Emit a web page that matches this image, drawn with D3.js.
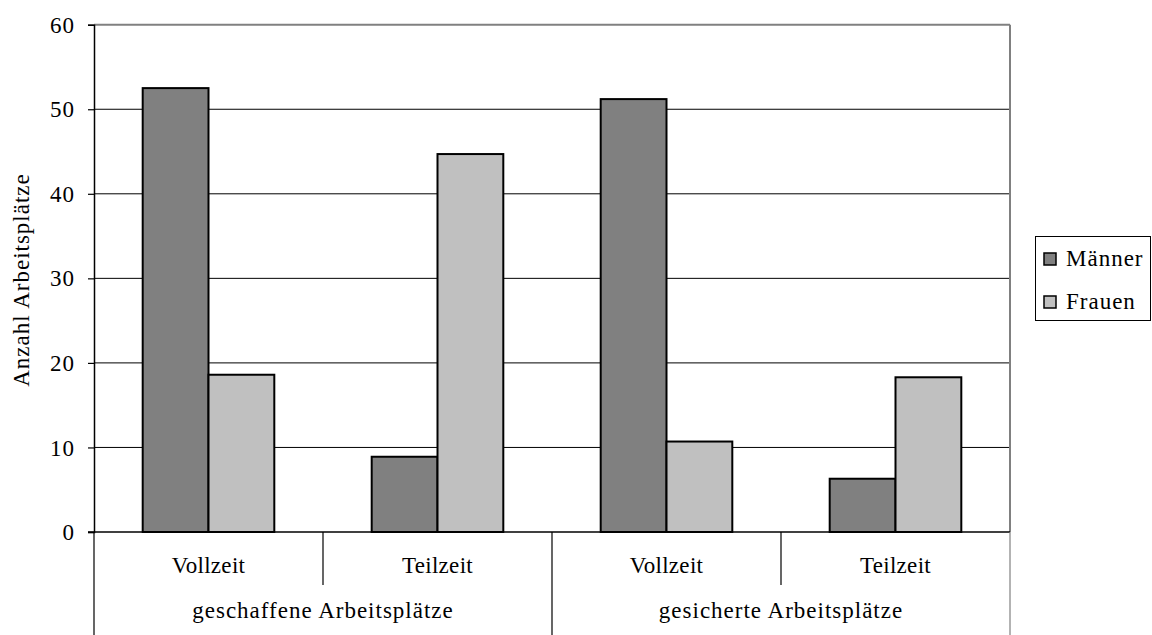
<!DOCTYPE html>
<html><head><meta charset="utf-8">
<script src="https://cdn.jsdelivr.net/npm/d3@7"></script>
<style>
body{margin:0;background:#fff;}
svg{display:block;}
text{font-family:"Liberation Serif","Times New Roman",serif;fill:#000;}
</style></head>
<body><svg id="c" width="1152" height="635"></svg>
<script>
const groups = ["geschaffene Arbeitsplätze", "gesicherte Arbeitsplätze"];
const subcats = ["Vollzeit", "Teilzeit"];
const series = ["Männer", "Frauen"];
const maenner = [52.5, 8.9, 51.2, 6.3];
const frauen = [18.6, 44.7, 10.7, 18.3];
const yTicks = [0, 10, 20, 30, 40, 50, 60];
const colors = ["#808080", "#c0c0c0"];

const svg = d3.select("#c");
const L = 94, R = 1010, T = 24.7, B = 532;
const cats = [];
groups.forEach((g, gi) => subcats.forEach((s, si) => cats.push({g: gi, s, key: gi + "-" + si})));
const x = d3.scaleBand().domain(cats.map(d => d.key)).range([L, R]);
const xs = d3.scaleBand().domain(series).range([0, x.bandwidth()]).paddingInner(0).paddingOuter(0.74);
const y = d3.scaleLinear().domain([0, 60]).range([B, T]);

// gridlines
svg.append("g").selectAll("line").data(yTicks.filter(t => t > 0 && t < 60)).join("line")
  .attr("x1", L).attr("x2", R).attr("y1", d => y(d)).attr("y2", d => y(d))
  .attr("stroke", "#000").attr("stroke-width", 1);

// top & right border (gray)
svg.append("line").attr("x1", L).attr("x2", R).attr("y1", y(60)).attr("y2", y(60)).attr("stroke", "#808080").attr("stroke-width", 2);
svg.append("line").attr("x1", R).attr("x2", R).attr("y1", y(60)).attr("y2", B).attr("stroke", "#808080").attr("stroke-width", 2);

// y axis
const yAxis = d3.axisLeft(y).tickValues(yTicks).tickSize(6).tickPadding(13).tickFormat(d3.format("d"));
const ga = svg.append("g").attr("transform", `translate(${L},0)`).call(yAxis);
ga.attr("font-family", null).attr("font-size", null);
ga.select(".domain").attr("stroke", "#000").attr("stroke-width", 1.5);
ga.selectAll(".tick line").attr("stroke", "#000").attr("stroke-width", 1.2);
ga.selectAll(".tick text").attr("font-size", 23).attr("letter-spacing", "1px").attr("dy", "0.33em");

// bars
const data = [];
cats.forEach((c, i) => {
  data.push({key: c.key, ser: series[0], v: maenner[i], col: colors[0]});
  data.push({key: c.key, ser: series[1], v: frauen[i], col: colors[1]});
});
svg.append("g").selectAll("rect").data(data).join("rect")
  .attr("x", d => x(d.key) + xs(d.ser))
  .attr("width", xs.bandwidth())
  .attr("y", d => y(d.v))
  .attr("height", d => y(0) - y(d.v))
  .attr("fill", d => d.col).attr("stroke", "#000").attr("stroke-width", 2);

// x baseline
svg.append("line").attr("x1", L - 6).attr("x2", R).attr("y1", B).attr("y2", B).attr("stroke", "#000").attr("stroke-width", 1.5);

// category dividers
const bounds = cats.map(c => x(c.key)).concat([R]);
svg.append("g").selectAll("line").data(bounds).join("line")
  .attr("x1", d => d).attr("x2", d => d)
  .attr("y1", B)
  .attr("y2", (d, i) => (i % 2 === 0) ? 635 : 585)
  .attr("stroke", (d, i) => i === bounds.length - 1 ? "#808080" : "#000")
  .attr("stroke-width", 1.2);

// subcategory labels
svg.append("g").selectAll("text").data(cats).join("text")
  .attr("x", d => x(d.key) + x.bandwidth() / 2).attr("y", 573)
  .attr("text-anchor", "middle").attr("font-size", 23).attr("letter-spacing", "0.3px")
  .text(d => d.s);

// group labels
svg.append("g").selectAll("text").data(groups).join("text")
  .attr("x", (d, i) => x(i + "-0") + x.bandwidth())
  .attr("y", 618)
  .attr("text-anchor", "middle").attr("font-size", 23).attr("letter-spacing", "1px")
  .text(d => d);

// y title
svg.append("text").attr("transform", "translate(29,280) rotate(-90)")
  .attr("text-anchor", "middle").attr("font-size", 23).attr("letter-spacing", "1px")
  .text("Anzahl Arbeitsplätze");

// legend
const lg = svg.append("g");
lg.append("rect").attr("x", 1035.5).attr("y", 236.5).attr("width", 115).attr("height", 84)
  .attr("fill", "#fff").attr("stroke", "#000").attr("stroke-width", 1);
const items = lg.selectAll("g.it").data(series).join("g").attr("class", "it")
  .attr("transform", (d, i) => `translate(0,${i * 43})`);
items.append("rect").attr("x", 1044).attr("y", 253).attr("width", 12).attr("height", 12)
  .attr("fill", (d, i) => colors[i]).attr("stroke", "#000").attr("stroke-width", 1.5);
items.append("text").attr("x", 1066).attr("y", 266).attr("font-size", 23).attr("letter-spacing", "1px").text(d => d);
</script></body></html>
